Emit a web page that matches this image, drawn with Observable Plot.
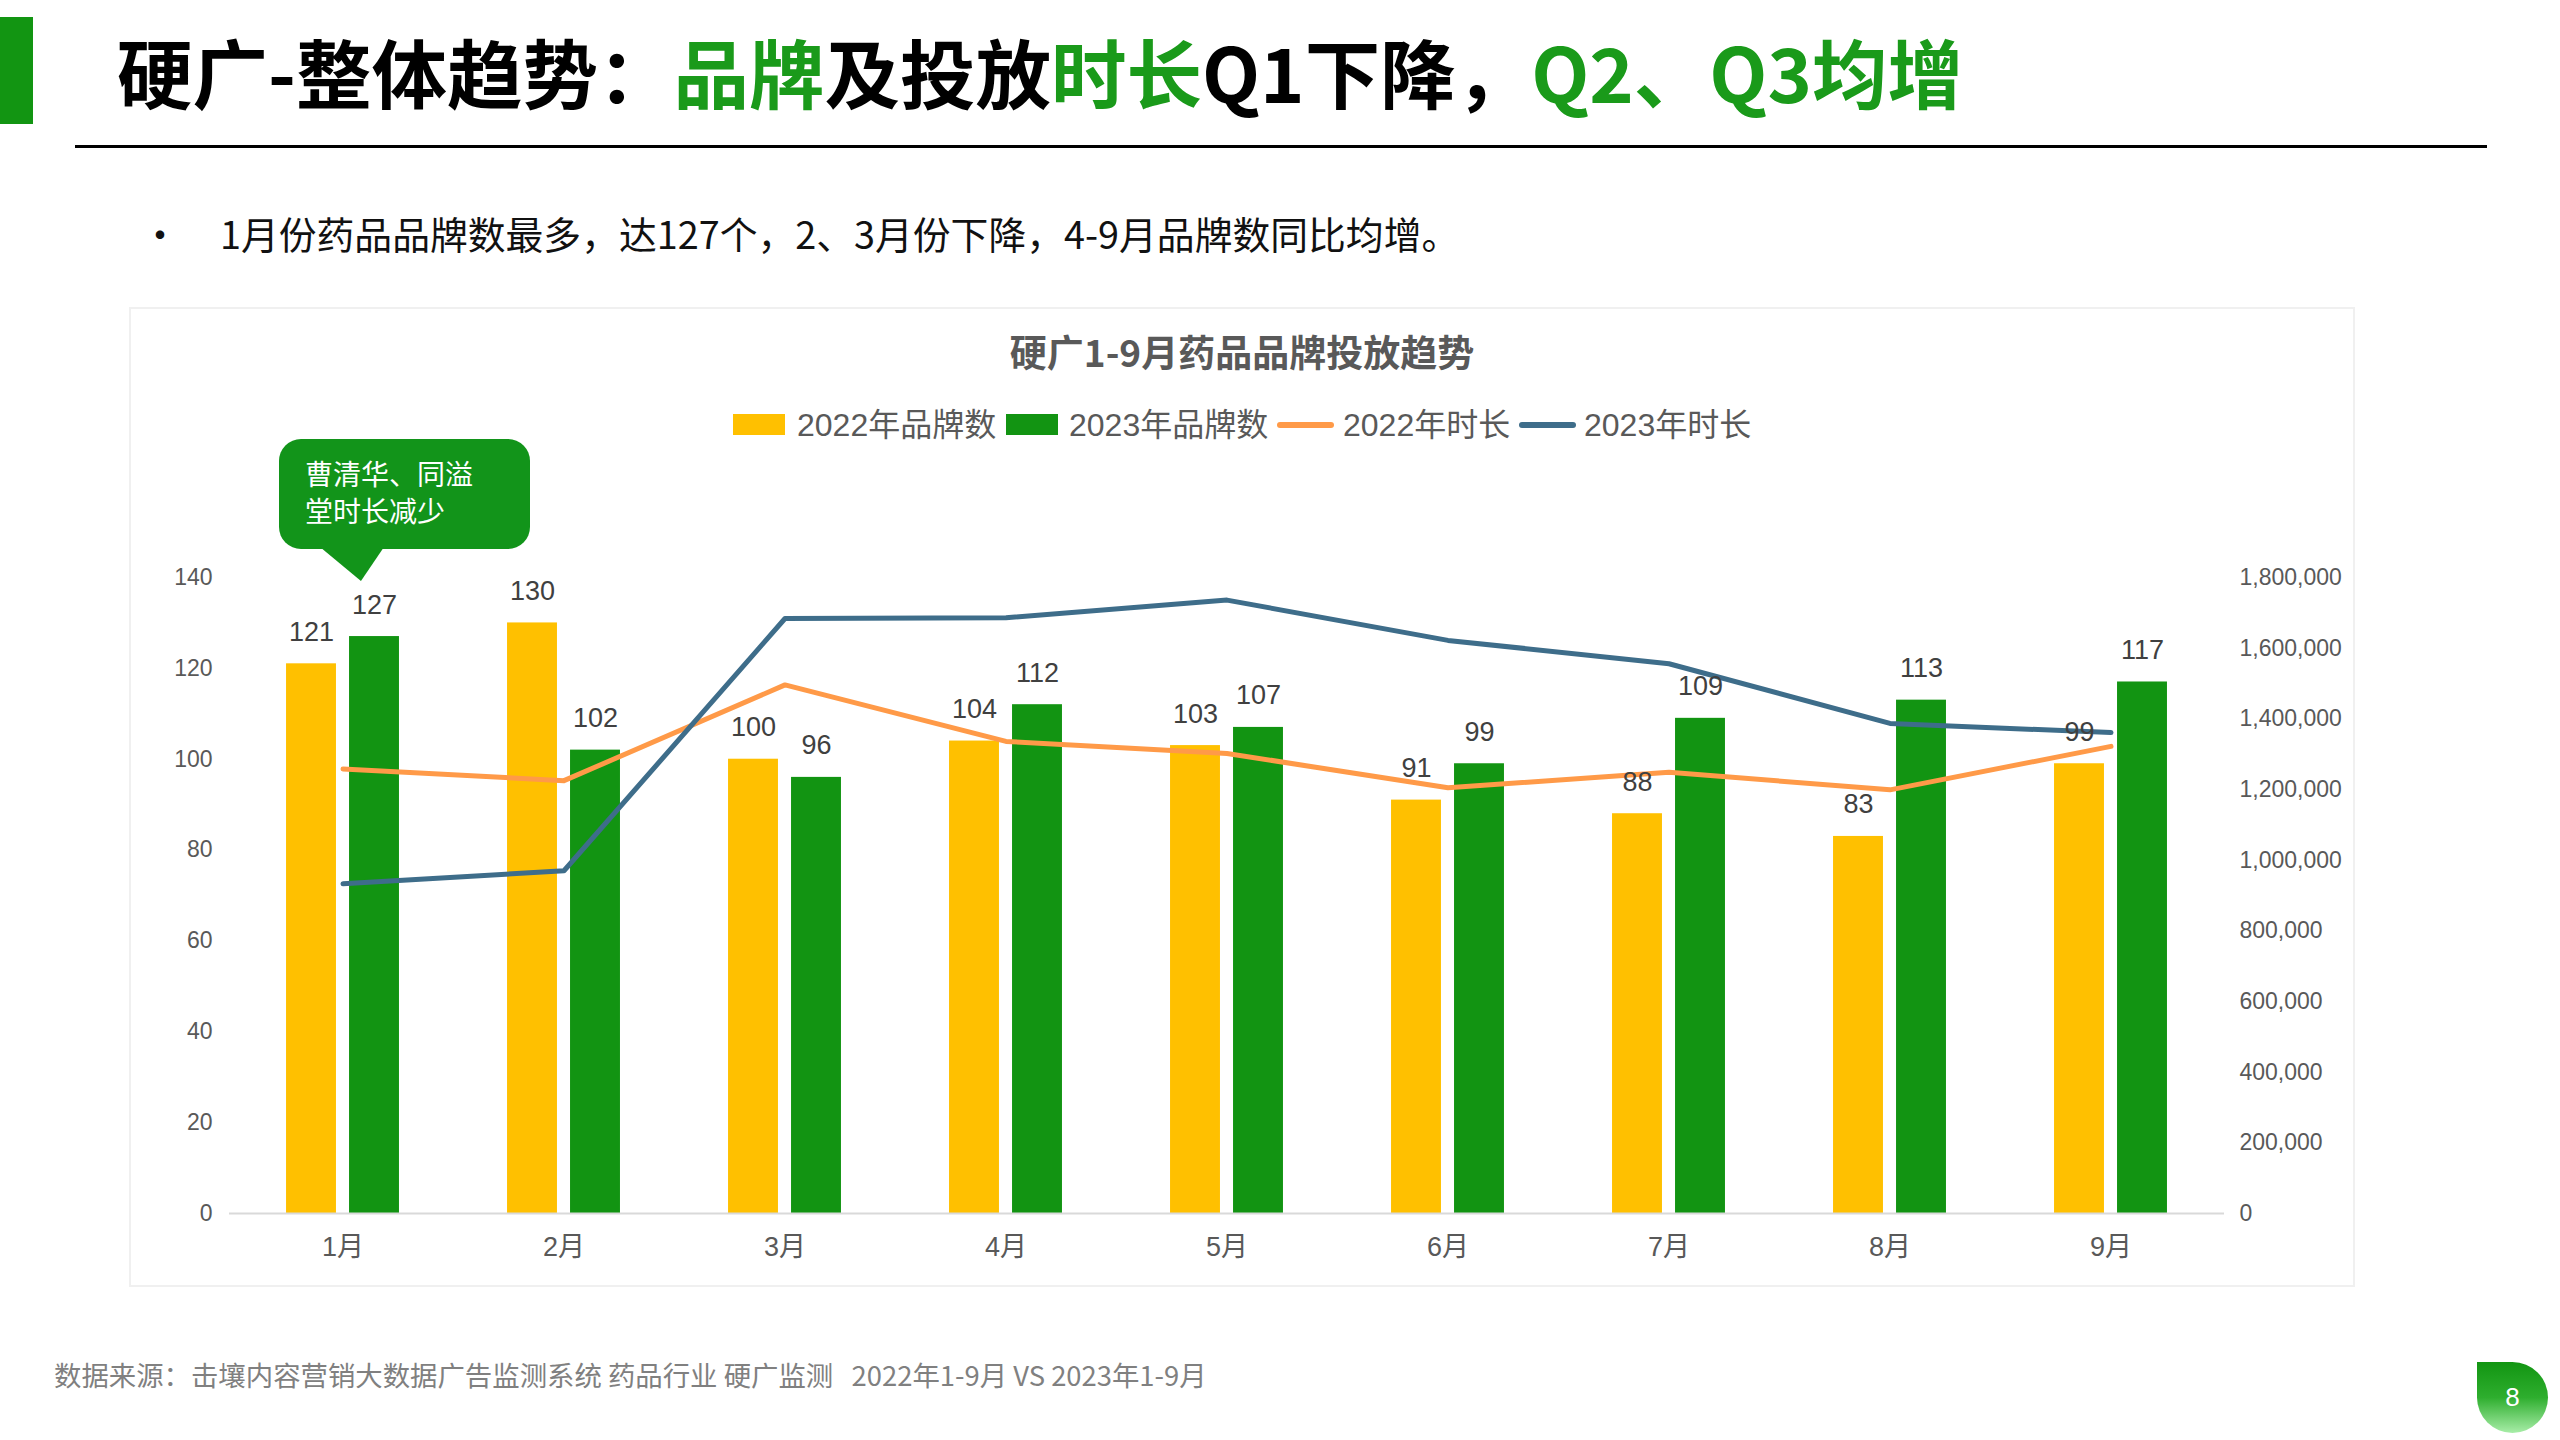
<!DOCTYPE html>
<html>
<head>
<meta charset="utf-8">
<script src="https://cdn.jsdelivr.net/npm/d3@7"></script>
<script src="https://cdn.jsdelivr.net/npm/@observablehq/plot@0.6"></script>
<style>
  html, body { margin: 0; padding: 0; }
  body { width: 2560px; height: 1440px; position: relative; background: #fff; overflow: hidden;
         font-family: "Noto Sans CJK SC", "Liberation Sans", sans-serif; }
  .abs { position: absolute; }
  #sidebar { left: 0; top: 17px; width: 33px; height: 107px; background: #129512; }
  #title { left: 117px; top: 22px; font-size: 75.5px; font-weight: 700; color: #000; line-height: 96px; white-space: nowrap; }
  #title .g { color: #1A9A1A; }
  #rule { left: 75px; top: 145px; width: 2412px; height: 3px; background: #000; }
  #bullet { left: 140px; top: 206px; font-size: 40px; line-height: 54px; color: #111; }
  #lead { left: 220px; top: 206px; font-size: 37.8px; line-height: 54px; color: #111; white-space: nowrap; }
  #box { left: 129px; top: 307px; width: 2222px; height: 976px; border: 2px solid #F0F0F0; }
  #ctitle { left: 129px; width: 2226px; top: 327px; text-align: center; font-size: 37px; font-weight: 700; color: #595959; line-height: 48px; }
  .lg { position: absolute; font-size: 32px; color: #595959; line-height: 44px; top: 403px; white-space: nowrap; font-family: "Liberation Sans", "Noto Sans CJK SC", sans-serif; }
  .sw { position: absolute; }
  #chart { left: 129px; top: 540px; }
  #callout { left: 279px; top: 439px; width: 251px; height: 110px; background: #12941A; border-radius: 22px; }
  .ct { left: 305px; color: #fff; font-size: 28px; line-height: 36px; white-space: nowrap; }
  #pointer { left: 320px; top: 547px; width: 64px; height: 34px; background: #12941A; clip-path: polygon(0 0, 100% 0, 64% 100%); }
  #footer { left: 54px; top: 1355px; font-size: 27.4px; line-height: 38px; color: #808080; white-space: nowrap; }
  #page { left: 2477px; top: 1362px; width: 71px; height: 71px; border-radius: 0 50% 50% 50%;
          background: linear-gradient(#129512, #2EAE2E 50%, #A8EDA8); color: #fff; font-size: 26px;
          text-align: center; line-height: 71px; font-family: "Liberation Sans", sans-serif; }
</style>
</head>
<body>
<div id="sidebar" class="abs"></div>
<div id="title" class="abs">硬广-整体趋势：<span class="g">品牌</span>及投放<span class="g">时长</span>Q1下降，<span class="g">Q2、Q3均增</span></div>
<div id="rule" class="abs"></div>
<div id="bullet" class="abs">•</div>
<div id="lead" class="abs">1月份药品品牌数最多，达127个，2、3月份下降，4-9月品牌数同比均增。</div>
<div id="box" class="abs"></div>
<div id="ctitle" class="abs">硬广1-9月药品品牌投放趋势</div>
<div id="legend"></div>
<div id="chart" class="abs"></div>
<div id="callout" class="abs"></div>
<div id="pointer" class="abs"></div>
<div class="abs ct" style="top:455px">曹清华、同溢</div>
<div class="abs ct" style="top:492px">堂时长减少</div>
<div id="footer" class="abs">数据来源：击壤内容营销大数据广告监测系统 药品行业 硬广监测&nbsp;&nbsp;&nbsp;2022年1-9月 VS 2023年1-9月</div>
<div id="page" class="abs">8</div>

<script>
// ---------- data ----------
const months = ["1月", "2月", "3月", "4月", "5月", "6月", "7月", "8月", "9月"];
const brands2022 = [121, 130, 100, 104, 103, 91, 88, 83, 99];
const brands2023 = [127, 102, 96, 112, 107, 99, 109, 113, 117];
const duration2022 = [1258000, 1225000, 1496000, 1336000, 1302000, 1205000, 1249000, 1199000, 1322000];
const duration2023 = [933000, 970000, 1684000, 1686000, 1736000, 1622000, 1556000, 1387000, 1361000];
const leftTicks = [0, 20, 40, 60, 80, 100, 120, 140];
const rightTicks = [0, 200000, 400000, 600000, 800000, 1000000, 1200000, 1400000, 1600000, 1800000];
const seriesNames = ["2022年品牌数", "2023年品牌数", "2022年时长", "2023年时长"];
const seriesColors = ["#FFC000", "#129412", "#FF9A48", "#3E6D8A"];

// ---------- legend (HTML) ----------
const legendItems = [
  {kind: "rect", sw: 733, tx: 797},
  {kind: "rect", sw: 1006, tx: 1069},
  {kind: "line", sw: 1277, tx: 1343},
  {kind: "line", sw: 1519, tx: 1584}
];
const lg = document.getElementById("legend");
legendItems.forEach((it, i) => {
  const s = document.createElement("div");
  s.className = "sw";
  if (it.kind === "rect") {
    Object.assign(s.style, {left: it.sw + "px", top: "414px", width: "52px", height: "21px", background: seriesColors[i]});
  } else {
    Object.assign(s.style, {left: it.sw + "px", top: "422px", width: "57px", height: "6px", borderRadius: "3px", background: seriesColors[i]});
  }
  lg.appendChild(s);
  const t = document.createElement("div");
  t.className = "lg";
  t.style.left = it.tx + "px";
  t.textContent = seriesNames[i];
  lg.appendChild(t);
});

// ---------- chart ----------
const W = 2226, H = 747, ML = 100, MR = 131, MT = 37, MB = 74;
const bw = (W - ML - MR) / months.length;
const barW = 50.6, off = 31.5;
const K = 140 / 1800000; // right-axis value -> left-axis units

const bars22 = months.map((m, i) => ({month: m, value: brands2022[i]}));
const bars23 = months.map((m, i) => ({month: m, value: brands2023[i]}));
const dur22 = months.map((m, i) => ({month: m, value: duration2022[i]}));
const dur23 = months.map((m, i) => ({month: m, value: duration2023[i]}));

const inL = bw / 2 - off - barW / 2;
const inR = bw - inL - barW;

const chart = Plot.plot({
  width: W, height: H,
  marginLeft: ML, marginRight: MR, marginTop: MT, marginBottom: MB,
  style: {fontFamily: "'Liberation Sans', 'Noto Sans CJK SC', sans-serif", background: "transparent"},
  x: {type: "band", domain: months, padding: 0},
  y: {domain: [0, 140]},
  marks: [
    Plot.barY(bars22, {x: "month", y: "value", fill: seriesColors[0], insetLeft: inL, insetRight: inR}),
    Plot.barY(bars23, {x: "month", y: "value", fill: seriesColors[1], insetLeft: inR, insetRight: inL}),
    Plot.ruleY([0], {stroke: "#D9D9D9", strokeWidth: 2}),
    Plot.line(dur22, {x: "month", y: d => d.value * K, stroke: seriesColors[2], strokeWidth: 5, strokeLinejoin: "round", strokeLinecap: "round"}),
    Plot.line(dur23, {x: "month", y: d => d.value * K, stroke: seriesColors[3], strokeWidth: 5, strokeLinejoin: "round", strokeLinecap: "round"}),
    Plot.text(bars22, {x: "month", y: "value", text: d => String(d.value), dx: -off, dy: -23, lineAnchor: "bottom", fill: "#404040", fontSize: 27}),
    Plot.text(bars23, {x: "month", y: "value", text: d => String(d.value), dx: off, dy: -23, lineAnchor: "bottom", fill: "#404040", fontSize: 27}),
    Plot.axisY(leftTicks, {anchor: "left", tickSize: 0, tickPadding: 17, fontSize: 23, color: "#595959", label: null}),
    Plot.axisY(rightTicks.map(v => v * K), {anchor: "right", tickSize: 0, tickPadding: 15, fontSize: 23, color: "#595959", label: null,
      tickFormat: d => d3.format(",")(Math.round(d / K))}),
    Plot.axisX({tickSize: 0, tickPadding: 23, fontSize: 27, color: "#595959", label: null})
  ]
});
document.getElementById("chart").appendChild(chart);
</script>
</body>
</html>
